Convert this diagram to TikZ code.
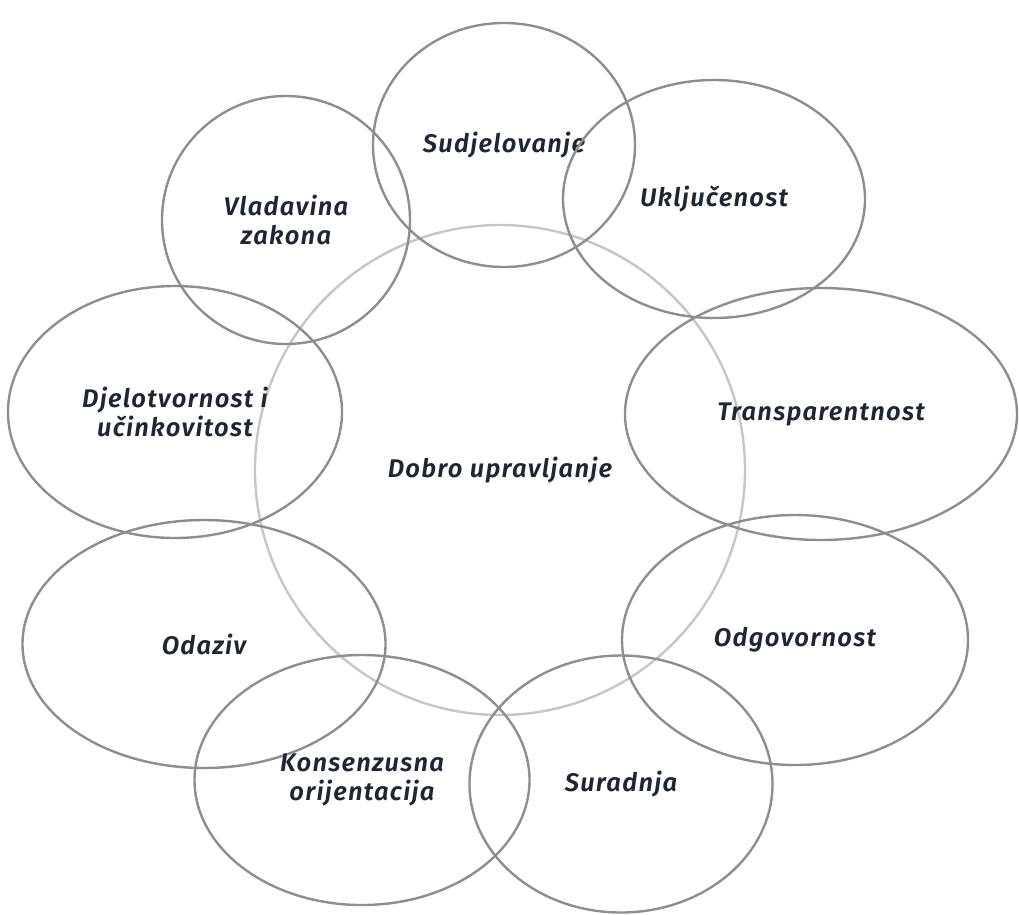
\documentclass[tikz,border=0pt]{standalone}
\usepackage{fontspec}
\setmainfont{Fira Sans}[BoldItalicFont={* SemiBold Italic},LetterSpace=5]
\usetikzlibrary{shapes.geometric}
\definecolor{ringgray}{HTML}{8E8E8E}
\definecolor{coregray}{HTML}{C6C6C6}
\definecolor{labelink}{HTML}{1E2633}
\begin{document}
\begin{tikzpicture}[x=1pt,y=-1pt]
        \useasboundingbox (0,0) rectangle (1019,914);
        \begin{scope}[every node/.style={ellipse,draw=ringgray,line width=2.4pt,inner sep=0pt,outer sep=0pt,
            text=labelink,align=center,font=\fontsize{25.5}{29.5}\selectfont\bfseries\itshape}]
            \node[draw=coregray,minimum width=490,minimum height=490] (dobro) at (500,470) {Dobro upravljanje};
            \node[minimum width=262,minimum height=244] (sud) at (504,145) {Sudjelovanje};
            \node[minimum width=302,minimum height=238] (ukl) at (714,199) {Uključenost};
            \node[minimum width=248,minimum height=248] (vla) at (286,220) {Vladavina\\zakona};
            \node[minimum width=392,minimum height=252] (tra) at (821,414) {Transparentnost};
            \node[minimum width=334,minimum height=252] (dje) at (175,412) {Djelotvornost i\\učinkovitost};
            \node[minimum width=346,minimum height=250] (odg) at (795,640) {Odgovornost};
            \node[minimum width=363,minimum height=248] (oda) at (204,644) {Odaziv};
            \node[minimum width=303,minimum height=257] (sur) at (621,784) {Suradnja};
            \node[minimum width=335,minimum height=250] (kon) at (362,780) {Konsenzusna\\orijentacija};
        \end{scope}
    \end{tikzpicture}
\end{document}
